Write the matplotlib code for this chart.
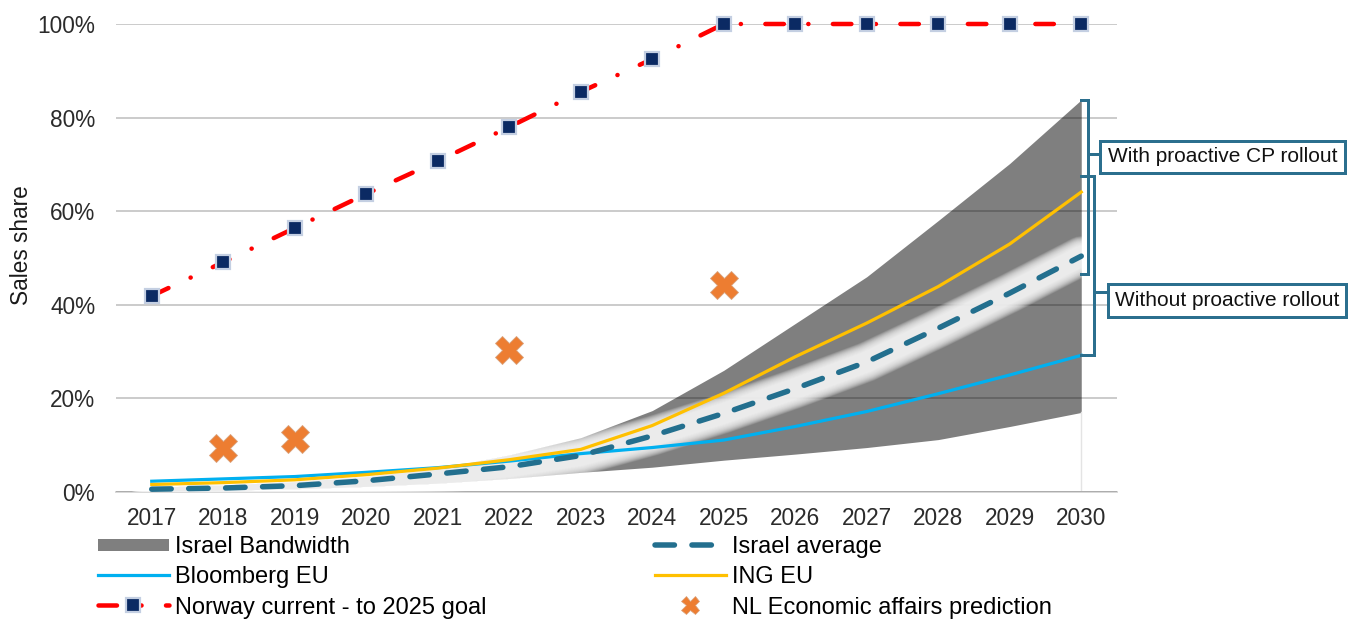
import matplotlib
matplotlib.use("Agg")
import numpy as np
import matplotlib.pyplot as plt
from matplotlib.lines import Line2D
from matplotlib.patches import Rectangle
from matplotlib import transforms

plt.rcParams["font.family"] = ["Liberation Sans", "DejaVu Sans"]
plt.rcParams["lines.scale_dashes"] = False

# ---------------------------------------------------------------- data (%)
years = list(range(2017, 2031))
band_lower = [0.2, 0.4, 0.7, 1.2, 1.9, 2.9, 4.2, 5.3, 6.8, 8.1, 9.5, 11.2, 14.0, 17.0]
band_upper = [1.0, 1.5, 2.2, 3.3, 5.0, 7.9, 11.6, 17.4, 26.0, 36.0, 46.0, 58.0, 70.2, 83.8]
israel_avg = [0.6, 0.85, 1.35, 2.4, 3.85, 5.4, 7.8, 12.0, 16.8, 22.1, 27.8, 35.0, 42.5, 50.4]
bloomberg_eu = [2.3, 2.8, 3.3, 4.2, 5.2, 6.6, 8.2, 9.5, 11.1, 14.0, 17.2, 21.0, 25.0, 29.2]
ing_eu = [1.6, 2.0, 2.6, 3.7, 5.1, 6.9, 9.1, 14.2, 21.1, 28.9, 36.1, 43.9, 53.0, 64.1]
norway = [41.9, 49.1, 56.4, 63.7, 70.7, 78.0, 85.5, 92.5, 100, 100, 100, 100, 100, 100]
nl_years = [2018, 2019, 2022, 2025]
nl_pred = [9.3, 11.3, 30.3, 44.2]
y_ticks = [0, 20, 40, 60, 80, 100]

# ---------------------------------------------------------------- styling
W, H = 1355, 621
GRAY = "#7F7F7F"
BLUE = "#00B0F0"
GOLD = "#FFC000"
TEAL = "#236F8E"
RED = "#FF0000"
NAVY = "#0B2A63"
ORANGE = "#ED7D31"
BRACKET = "#2B6F8E"


def pt(pixels):
    """Convert pixels to points at 100 dpi."""
    return pixels * 0.72


fig = plt.figure(figsize=(W / 100, H / 100), dpi=100)
ax = fig.add_axes([116 / W, 129 / H, 1001 / W, 468 / H])
ax.set_xlim(2016.5, 2030.5)
ax.set_ylim(0, 100)

# Israel bandwidth
ax.fill_between(years, band_lower, band_upper, color=GRAY, lw=0, zorder=1)
ax.plot([years[-1], years[-1]], [0, band_lower[-1]], color="#e4e4e4", lw=1, zorder=1)

# soft white halo around the Israel average
for w in np.linspace(40, 20, 24):
    ax.plot(years, israel_avg, color="white", alpha=0.085, lw=pt(w),
            solid_capstyle="round", solid_joinstyle="round", zorder=1.7)

bl_line, = ax.plot(years, bloomberg_eu, color=BLUE, lw=pt(3.2), zorder=3,
                   solid_joinstyle="round")
ing_line, = ax.plot(years, ing_eu, color=GOLD, lw=pt(3.2), zorder=3.1,
                    solid_joinstyle="round")
avg_line, = ax.plot(years, israel_avg, color=TEAL, lw=pt(5.5), zorder=3.2,
                    linestyle=(0, (14.0, 12.6)), dash_capstyle="round")
nor_line, = ax.plot(years, norway, color=RED, lw=pt(4.5), zorder=4,
                    linestyle=(0, (13.3, 17.6, 0.1, 17.6)), dash_capstyle="round",
                    marker="s", ms=pt(13.5), mfc=NAVY, mec="#C4CFE2", mew=pt(2.2),
                    clip_on=False)
ax.plot(nl_years, nl_pred, linestyle="none", marker="X", ms=pt(28), color=ORANGE,
        mec="#D9A27C", mew=0.6, zorder=5)

# axes, ticks and grid
for side in ("top", "right", "left"):
    ax.spines[side].set_visible(False)
ax.spines["bottom"].set_color("#d9d9d9")
ax.spines["bottom"].set_linewidth(pt(2))
ax.spines["bottom"].set_zorder(1.5)
ax.set_yticks(y_ticks)
ax.set_yticklabels([f"{v}%" for v in y_ticks])
ax.set_xticks(years)
ax.set_xticklabels([str(y) for y in years])
ax.tick_params(axis="y", length=0, pad=15, labelsize=16.3, labelcolor="#2b2b2b")
ax.tick_params(axis="x", length=0, pad=11, labelsize=16.3, labelcolor="#2b2b2b")
ax.set_axisbelow("line")
ax.yaxis.grid(True, color="black", alpha=0.25, lw=pt(1.6))
fig.text(22 / W, 1 - 245 / H, "Sales share", rotation=90, ha="center", va="center",
         fontsize=16.3, color="#1a1a1a")

# brackets with call-out boxes
trans = transforms.blended_transform_factory(fig.transFigure, ax.transData)
brackets = [
    # top, bottom, vertical x(px), tick y, box left/right(px), box centre y, box height, text
    (band_upper[-1], 46.5, 1087.5, 72.2, 1099.5, 1345, 71.6, 6.7, "With proactive CP rollout"),
    (67.6, bloomberg_eu[-1], 1093.5, 42.8, 1108, 1345.5, 41.0, 7.0, "Without proactive rollout"),
]
x_tip = 1080.5 / W
for top, bot, xv, ty, bl, br, bc, bh, label in brackets:
    xv /= W
    fig.add_artist(Line2D([x_tip, xv, xv, x_tip], [top, top, bot, bot], transform=trans,
                          color=BRACKET, lw=pt(3), solid_joinstyle="miter"))
    fig.add_artist(Line2D([xv, bl / W], [ty, ty], transform=trans, color=BRACKET, lw=pt(3)))
    fig.add_artist(Rectangle((bl / W, bc - bh / 2), (br - bl) / W, bh, transform=trans,
                             facecolor="white", edgecolor=BRACKET, lw=pt(3)))
    fig.text((bl + br) / 2 / W, bc, label, transform=trans, ha="center", va="center",
             fontsize=15, color="#111111")

# legend in two columns
band_proxy = Line2D([], [], color=GRAY, lw=pt(12), solid_capstyle="butt")
nl_proxy = Line2D([], [], linestyle="none", marker="X", ms=pt(18), color=ORANGE,
                  mec="#D9A27C", mew=0.5)
common = dict(loc="upper left", frameon=False, fontsize=17, handlelength=3.0,
              handletextpad=0.27, labelspacing=0.35, borderpad=0, borderaxespad=0,
              numpoints=1)
fig.legend([band_proxy, bl_line, nor_line],
           ["Israel Bandwidth", "Bloomberg EU", "Norway current - to 2025 goal"],
           bbox_to_anchor=(98 / W, 1 - 536 / H), **common)
fig.legend([avg_line, ing_line, nl_proxy],
           ["Israel average", "ING EU", "NL Economic affairs prediction"],
           bbox_to_anchor=(655 / W, 1 - 536 / H), **common)

fig.savefig("out.png", dpi=100)
